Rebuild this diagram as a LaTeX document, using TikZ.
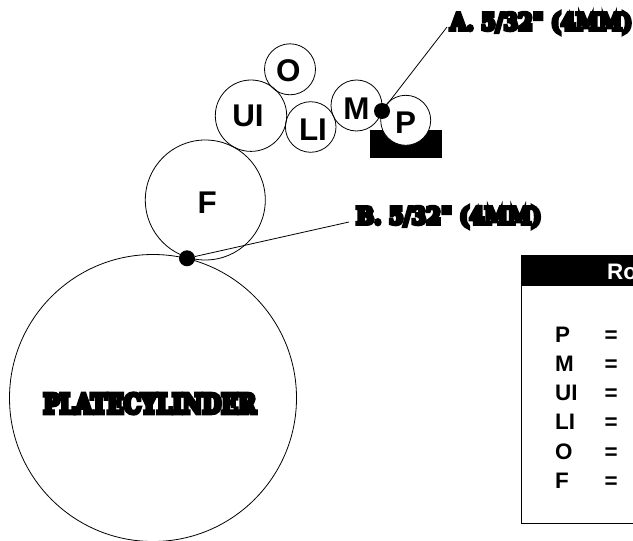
\documentclass[tikz,border=0pt]{standalone}
\usepackage{fontspec}
\setmainfont{Liberation Sans}
\newfontfamily\heavyfont[FakeBold=16]{DejaVu Serif Bold}
\tikzset{
  roller/.style={circle,draw=black,line width=0.8bp,inner sep=0pt},
  rollertext/.style={inner sep=0pt,font=\fontsize{31.5}{32}\selectfont\bfseries},
  contact/.style={circle,fill=black,inner sep=0pt,minimum size=16bp},
  leader/.style={draw=black,line width=0.8bp},
  heavy/.style={inner sep=0pt,font=\fontsize{20.5}{22}\heavyfont},
  legend/.style={inner sep=0pt,anchor=base west,font=\fontsize{22.5}{23}\selectfont\bfseries},
}
\begin{document}
\begin{tikzpicture}[x=1bp,y=-1bp]
\useasboundingbox (0,0) rectangle (633,541);
\clip (0,0) rectangle (633,541);
\fill[white] (0,0) rectangle (633,541);
% table
\node[draw=black,line width=0.8bp,anchor=north west,minimum width=140bp,minimum height=268bp,inner sep=0pt] (tablebox) at (521,255) {};
\node[fill=black,anchor=north west,minimum width=140bp,minimum height=31bp,inner sep=0pt] (tablehead) at (521,255) {};
\node[legend,text=white] (title) at (607,279) {Ro};
\foreach \n/\t/\y in {p/P/342,m/M/371,ui/UI/400,li/LI/429,o/O/459,f/F/488}{
  \node[legend] (key\n) at (555,\y) {\t};
  \node[legend] (eq\n) at (604.5,\y) {=};
}
% rollers
\node[fill=black,anchor=north west,minimum width=72bp,minimum height=28.5bp,inner sep=0pt] (pan) at (370,129.7) {};
\node[roller,minimum size=287bp] (plate) at (153,398) {};
\node[heavy] (platelabel) at (149.7,403.5) {\scalebox{1.07}[1.3]{PLATECYLINDER}};
\node[roller,minimum size=120bp] (F) at (205.3,200) {};
\node[rollertext] (Ft) at (207.3,202.5) {F};
\node[roller,minimum size=71.4bp] (UI) at (251,115.7) {};
\node[rollertext] (UIt) at (248,115.5) {UI};
\node[roller,minimum size=51bp] (O) at (290,69.3) {};
\node[rollertext] (Ot) at (288.3,71) {O};
\node[roller,minimum size=50.6bp] (LI) at (310.7,127) {};
\node[rollertext] (LIt) at (313,129.5) {LI};
\node[roller,minimum size=51bp] (M) at (356.5,105.5) {};
\node[rollertext] (Mt) at (356.5,109) {M};
\node[roller,fill=white,minimum size=50bp] (P) at (405.7,120.3) {};
\node[rollertext] (Pt) at (405.5,123) {P};
% contact points
\node[contact] (dotA) at (382,111) {};
\node[contact] (dotB) at (187,258.3) {};
% labels
\node[heavy,anchor=west] (labelA) at (450,23) {\scalebox{1.03}[1.15]{A. 5/32" (4MM)}};
\node[heavy,anchor=west] (labelB) at (356,217) {\scalebox{1.04}[1.15]{B. 5/32" (4MM)}};
\coordinate (endA) at (447,27);
\coordinate (endB) at (349,222);
\draw[leader] (dotA) -- (endA);
\draw[leader] (dotB) -- (endB);
\end{tikzpicture}
\end{document}
